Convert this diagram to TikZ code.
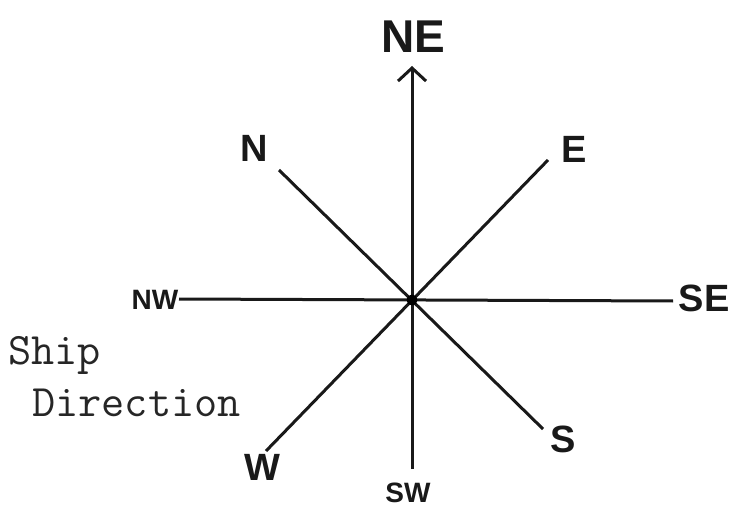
\documentclass[tikz,border=0pt]{standalone}
\usepackage{fontspec}
\setmainfont{Liberation Sans}
\usetikzlibrary{arrows.meta}
\tikzset{
  ray/.style={line width=3pt, black!90},
  compass/.style={font=\bfseries\fontsize{38}{38}\selectfont, inner sep=0pt, text=black!90},
  small/.style={font=\bfseries\fontsize{28}{28}\selectfont, inner sep=0pt, text=black!90},
  caption/.style={font=\ttfamily\fontsize{45}{45}\selectfont, inner sep=0pt, anchor=base west, text=black!85}
}
\begin{document}
\begin{tikzpicture}[x=1pt,y=-1pt]
\useasboundingbox (0,0) rectangle (733,521);
\coordinate (c) at (412,300);
\coordinate (ne) at (412,66);
\coordinate (sw) at (412,469);
\coordinate (nw) at (179,299);
\coordinate (se) at (673,301);
\coordinate (n) at (279,170);
\coordinate (s) at (543,429);
\coordinate (e) at (548,160);
\coordinate (w) at (266,451);
\draw[ray, -{Straight Barb[length=13pt,width=28pt,line width=3pt]}] (sw) -- (ne);
\draw[ray] (nw) -- (se);
\draw[ray] (n) -- (s);
\draw[ray] (e) -- (w);
\fill (c) circle (5.5pt);
\node[compass, font=\bfseries\fontsize{46}{46}\selectfont] (lne) at (413,37) {NE};
\node[compass] (ln) at (254,148) {N};
\node[compass] (le) at (574,149) {E};
\node[compass] (lse) at (704,298) {SE};
\node[small] (lnw) at (155,300) {NW};
\node[compass] (ls) at (563,439) {S};
\node[compass] (lw) at (262,467) {W};
\node[small] (lsw) at (408,493) {SW};
\node[caption] (ship) at (8,364) {Ship};
\node[caption] (dir) at (32,416) {Direction};
\end{tikzpicture}
\end{document}
